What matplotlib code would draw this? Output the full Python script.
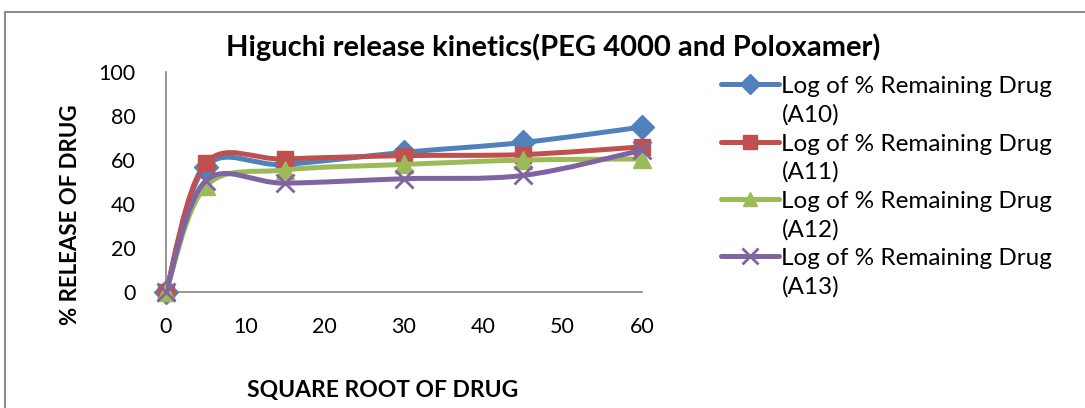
import numpy as np
import matplotlib.pyplot as plt
from matplotlib.path import Path
from matplotlib.patches import PathPatch, Rectangle
from matplotlib.lines import Line2D
from matplotlib.legend_handler import HandlerLine2D

plt.rcParams['font.family'] = ['Lato', 'DejaVu Sans']

# data
time_pts = [0, 5, 15, 30, 45, 60]
a10 = [0, 57, 58, 63.5, 68, 75]
a11 = [0, 58.5, 60.5, 62, 62.5, 66]
a12 = [0, 48, 55.5, 58, 60, 60.5]
a13 = [0, 50.5, 49.5, 51.5, 53, 64.5]
series_labels = ['Log of % Remaining Drug\n(A10)', 'Log of % Remaining Drug\n(A11)',
                 'Log of % Remaining Drug\n(A12)', 'Log of % Remaining Drug\n(A13)']
colors = ['#4F81BD', '#C0504D', '#9BBB59', '#8064A2']
markers = ['D', 's', '^', 'x']
msizes = [12.5, 12, 12.5, 13]


def smooth_path(x, y):
    # Excel-like smoothed line: Catmull-Rom segments as cubic Beziers
    p = np.column_stack([x, y]).astype(float)
    verts = [p[0]]
    codes = [Path.MOVETO]
    n = len(p)
    for i in range(n - 1):
        p0 = p[i - 1] if i > 0 else p[i]
        p3 = p[i + 2] if i + 2 < n else p[i + 1]
        c1 = p[i] + (p[i + 1] - p0) / 6
        c2 = p[i + 1] - (p3 - p[i]) / 6
        verts += [c1, c2, p[i + 1]]
        codes += [Path.CURVE4] * 3
    return Path(verts, codes)


class FirstLineHandler(HandlerLine2D):
    # put the legend handle level with the first text line
    def create_artists(self, legend, orig_handle, xdescent, ydescent, width, height,
                       fontsize, trans):
        arts = super().create_artists(legend, orig_handle, xdescent, ydescent, width,
                                      height, fontsize, trans)
        for a in arts:
            a.set_ydata(np.asarray(a.get_ydata(), dtype=float) + 0.68 * fontsize)
        return arts


fig = plt.figure(figsize=(10.85, 4.08), dpi=100)
ax = fig.add_axes([0.153, 0.2843, 0.4387, 0.539])

# outer chart border
fig.patches.append(Rectangle((5 / 1085, -0.1), 1.2, 1.1 - 12 / 408, transform=fig.transFigure,
                             fill=False, edgecolor='#8c8c8c', linewidth=1.5))

handles = []
for i, ys in enumerate([a10, a11, a12, a13]):
    z = 3 + i
    ax.add_patch(PathPatch(smooth_path(time_pts, ys), facecolor='none', edgecolor=colors[i],
                           linewidth=3.6, zorder=z, capstyle='round', joinstyle='round'))
    if markers[i] == 'x':
        ax.plot(time_pts, ys, linestyle='none', marker='x', markersize=msizes[i],
                markeredgewidth=2, color=colors[i], zorder=z + 0.5, clip_on=False)
    else:
        ax.plot(time_pts, ys, linestyle='none', marker=markers[i], markersize=msizes[i],
                color=colors[i], markeredgecolor=colors[i], zorder=z + 0.5, clip_on=False)
    handles.append(Line2D([], [], color=colors[i], linewidth=3.6, marker=markers[i],
                          markersize=msizes[i] * 0.85, markeredgewidth=2 if markers[i] == 'x' else 1,
                          solid_capstyle='round'))

ax.set_xlim(0, 60)
ax.set_ylim(0, 100)
ax.set_xticks([0, 10, 20, 30, 40, 50, 60])
ax.set_yticks([0, 20, 40, 60, 80, 100])
ax.tick_params(length=0, labelsize=15.5, pad=18)
ax.tick_params(axis='y', pad=22)
for s in ['top', 'right']:
    ax.spines[s].set_visible(False)
for s in ['left', 'bottom']:
    ax.spines[s].set_color('#868686')
    ax.spines[s].set_linewidth(1.2)

fig.text(0.51, 0.885, 'Higuchi release kinetics(PEG 4000 and Poloxamer)', ha='center', va='center',
         fontsize=21, fontweight='bold')
fig.text(0.065, 0.473, '% RELEASE OF DRUG', rotation=90, ha='center', va='center',
         fontsize=16, fontweight='bold')
fig.text(0.353, 0.044, 'SQUARE ROOT OF DRUG', ha='center', va='center',
         fontsize=16.5, fontweight='bold')

hmap = {h: FirstLineHandler() for h in handles}
leg = fig.legend(handles, series_labels, loc='upper left', bbox_to_anchor=(0.653, 0.843),
                 frameon=False, fontsize=17.5, handlelength=2.4, handletextpad=0.1,
                 labelspacing=0.32, borderpad=0, handler_map=hmap)
for t in leg.get_texts():
    t.set_linespacing(1.4)

fig.savefig('out.png', dpi=100)
